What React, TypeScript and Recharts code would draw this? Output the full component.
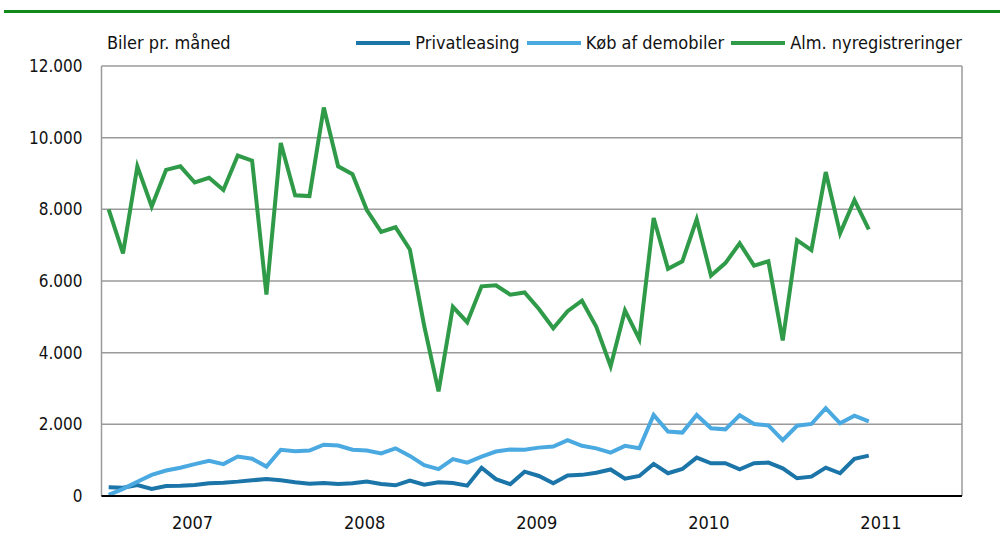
import React from 'react';
import { LineChart, Line, XAxis, YAxis, CartesianGrid, Legend } from 'recharts';

const years = ['2007', '2008', '2009', '2010', '2011'];
const monthsPerYear = 12;
const yTicks = [0, 2000, 4000, 6000, 8000, 10000, 12000];
const seriesNames = ['Privatleasing', 'Køb af demobiler', 'Alm. nyregistreringer'];

const privatleasing = [243, 233, 308, 196, 280, 289, 308, 354, 373, 401, 438, 476,
  438, 382, 345, 364, 336, 354, 401, 336, 298, 429, 317, 382,
  364, 289, 790, 470, 330, 680, 559, 354, 570, 590, 650, 740,
  485, 559, 895, 634, 755, 1071, 914, 914, 746, 914, 932, 774,
  494, 540, 792, 634, 1035, 1127];

const demobiler = [30, 200, 400, 590, 710, 790, 890, 980, 890, 1100, 1040, 820,
  1290, 1250, 1270, 1430, 1410, 1290, 1270, 1190, 1330, 1120, 860, 750,
  1030, 930, 1100, 1240, 1300, 1290, 1350, 1380, 1560, 1400, 1330, 1210,
  1400, 1330, 2260, 1800, 1770, 2260, 1890, 1860, 2250, 2010, 1970, 1560,
  1960, 2010, 2450, 2030, 2240, 2080];

const nyregistreringer = [8000, 6770, 9200, 8080, 9100, 9200, 8750, 8880, 8540, 9500, 9360, 5620,
  9850, 8390, 8370, 10840, 9200, 8980, 7980, 7370, 7500, 6880, 4750, 2920,
  5280, 4850, 5850, 5880, 5620, 5680, 5220, 4680, 5160, 5450, 4720, 3620,
  5180, 4380, 7760, 6340, 6550, 7720, 6150, 6500, 7050, 6430, 6550, 4340,
  7140, 6860, 9040, 7330, 8260, 7440];

const data = privatleasing.map((v, i) => ({
  t: i + 0.5,
  privat: v,
  demo: demobiler[i],
  alm: nyregistreringer[i],
}));

const domainMax = years.length * monthsPerYear;
const yearBoundaries = years.map((_, i) => i * monthsPerYear).concat([domainMax]);
const yearCenters = years.map((_, i) => i * monthsPerYear + monthsPerYear / 2);

const FONT = '"Liberation Sans Narrow", "DejaVu Sans Condensed", "Open Sans", sans-serif';

const fmt = (v: number) => v.toString().replace(/\B(?=(\d{3})+(?!\d))/g, '.');

const renderLegend = (props: any) => {
  const payload = [...(props.payload || [])].sort(
    (a: any, b: any) => seriesNames.indexOf(a.value) - seriesNames.indexOf(b.value)
  );
  return (
    <div style={{ position: 'relative', width: 1000, height: 30, fontFamily: FONT, fontSize: 18, color: '#111' }}>
      <span style={{ position: 'absolute', left: 107, top: 2 }}>Biler pr. måned</span>
      <div style={{ position: 'absolute', right: 38, top: 2, display: 'flex', alignItems: 'center' }}>
        {payload.map((p: any, i: number) => (
          <div key={i} style={{ display: 'flex', alignItems: 'center', marginLeft: i === 0 ? 0 : 7 }}>
            <div style={{ width: 54, height: 4, background: p.color, marginRight: 5 }} />
            <span>{p.value}</span>
          </div>
        ))}
      </div>
    </div>
  );
};

export default function App() {
  return (
    <div style={{ position: 'absolute', left: 0, top: 0, width: 1000, height: 534, background: '#fff' }}>
      <div style={{ position: 'absolute', left: 4, top: 10, width: 996, height: 2.5, background: '#128a1a' }} />
      <LineChart width={1000} height={534} data={data} margin={{ top: 36, right: 38, bottom: 0, left: 0 }}>
        <CartesianGrid xAxisId="grid" stroke="#9a9a9a" strokeWidth={1.5} />
        <XAxis
          xAxisId="grid"
          orientation="top"
          dataKey="t"
          type="number"
          domain={[0, domainMax]}
          ticks={yearBoundaries}
          height={0}
          tick={false}
          tickLine={false}
          axisLine={false}
          interval={0}
        />
        <XAxis
          dataKey="t"
          type="number"
          domain={[0, domainMax]}
          ticks={yearCenters}
          tickFormatter={(v: number) => years[Math.floor(v / monthsPerYear)]}
          tickLine={false}
          tickSize={0}
          tickMargin={20}
          height={38}
          axisLine={{ stroke: '#000', strokeWidth: 2 }}
          tick={{ fill: '#111', fontSize: 18, fontFamily: FONT, dx: 5 }}
          interval={0}
        />
        <YAxis
          width={101.5}
          domain={[0, 12000]}
          ticks={yTicks}
          tickFormatter={fmt}
          axisLine={false}
          tickLine={false}
          tickSize={0}
          tickMargin={19}
          tick={{ fill: '#111', fontSize: 17, fontFamily: FONT }}
          interval={0}
        />
        <Legend verticalAlign="top" height={30} content={renderLegend} wrapperStyle={{ left: 0, top: 30, width: 1000 }} />
        <Line dataKey="privat" name={seriesNames[0]} stroke="#1b75a8" strokeWidth={4} dot={false} isAnimationActive={false} strokeLinejoin="miter" />
        <Line dataKey="demo" name={seriesNames[1]} stroke="#4aa9e0" strokeWidth={4} dot={false} isAnimationActive={false} strokeLinejoin="miter" />
        <Line dataKey="alm" name={seriesNames[2]} stroke="#2f9a47" strokeWidth={4} dot={false} isAnimationActive={false} strokeLinejoin="miter" />
      </LineChart>
    </div>
  );
}
